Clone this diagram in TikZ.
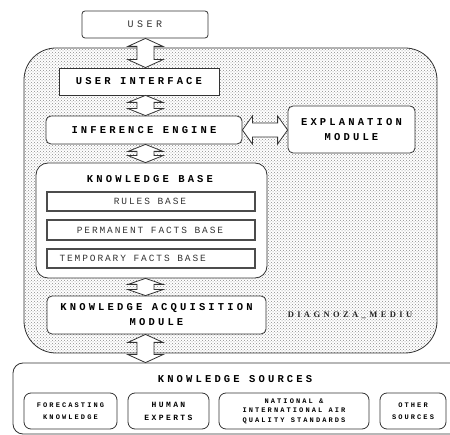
\documentclass[tikz,border=0pt]{standalone}
\usepackage{fontspec}
\newfontfamily\courfont{Liberation Mono}
\newfontfamily\serfont{Liberation Serif}
\usetikzlibrary{patterns,calc}
\tikzset{
  box/.style={draw=black!80, line width=0.8pt, fill=white, inner sep=0pt, align=center},
  rbox/.style={box, rounded corners=5pt},
  inbox/.style={box, line width=1.1pt, draw=black!70},
  titlefont/.style={font=\courfont\bfseries\fontsize{10.5}{15}\selectfont\addfontfeature{LetterSpace=30}},
  plainfont/.style={font=\courfont\fontsize{9.5}{12}\selectfont\addfontfeature{LetterSpace=20}, text=black!80},
  userfont/.style={font=\courfont\fontsize{10}{12}\selectfont\addfontfeature{LetterSpace=35}, text=black!80},
  smallfont/.style={font=\courfont\bfseries\fontsize{7}{12}\selectfont\addfontfeature{LetterSpace=30}},
  midfont/.style={font=\courfont\bfseries\fontsize{8}{13}\selectfont\addfontfeature{LetterSpace=30}},
  arrowline/.style={draw=black!80, line width=0.8pt, fill=white, line join=miter},
  region/.style={draw=black!80, line width=0.8pt, pattern=crosshatch dots, pattern color=black!45, rounded corners=32pt, inner sep=0pt},
}
\newcommand\vdarrow[3]{%
  \draw[arrowline] (#1) -- ++(17.5,#3) -- ++(-9,0) -- ($(#2)+(8.5,-#3)$) -- ++(9,0)
    -- (#2) -- ++(-17.5,-#3) -- ++(9,0) -- ($(#1)+(-8.5,#3)$) -- ++(-9,0) -- cycle;}
\newcommand\hdarrow[2]{%
  \draw[arrowline] (#1) -- ++(10,-14) -- ++(0,7) -- ($(#2)+(-10,-7)$) -- ++(0,-7)
    -- (#2) -- ++(-10,14) -- ++(0,-7) -- ($(#1)+(10,7)$) -- ++(0,7) -- cycle;}
\begin{document}
\begin{tikzpicture}[x=1pt,y=-1pt]
\useasboundingbox (0,0) rectangle (450,435);
\clip (0,0) rectangle (450,435);
\fill[white] (0,0) rectangle (450,435);

% main region
\node[region, minimum width=413pt, minimum height=305pt] (outer) at (230.5,200.5) {};
\node[font=\serfont\bfseries\fontsize{8.5}{10}\selectfont\addfontfeature{LetterSpace=40}, text=black!85] (diag) at (350,315) {DIAGNOZA\_MEDIU};

% sources region
\node[box, rounded corners=10pt, minimum width=457pt, minimum height=71pt] (src) at (241.5,398.5) {};
\node[titlefont] (srct) at (235,379) {KNOWLEDGE SOURCES};

\coordinate (ax) at (145.5,0);

% arrows (behind boxes)
\node[rbox, rounded corners=3pt, minimum width=126pt, minimum height=27pt, userfont] (user) at (145,24.5) {USER};
\node[box, minimum width=160pt, minimum height=27pt, titlefont] (ui) at (139,81.5) {USER INTERFACE};
\node[rbox, minimum width=196pt, minimum height=28pt, titlefont] (ie) at (144,130) {INFERENCE ENGINE};
\node[rbox, minimum width=127pt, minimum height=47pt, titlefont] (em) at (351.5,129.5) {EXPLANATION\\MODULE};
\node[box, rounded corners=12pt, minimum width=231pt, minimum height=115pt] (kb) at (151.5,220.5) {};
\node[titlefont] (kbt) at (150,179) {KNOWLEDGE BASE};
\node[inbox, minimum width=208pt, minimum height=19pt] (rules) at (151,201.5) {};
\node[plainfont] (rulest) at (150,201.5) {RULES BASE};
\node[inbox, minimum width=208pt, minimum height=20pt] (perm) at (151,230) {};
\node[plainfont] (permt) at (150,230) {PERMANENT FACTS BASE};
\node[inbox, minimum width=208pt, minimum height=19pt] (temp) at (151,258.5) {};
\node[plainfont, anchor=west] (tempt) at (56,258.5) {TEMPORARY FACTS BASE};
\node[rbox, minimum width=219pt, minimum height=38pt, titlefont] (kam) at (156.5,315) {KNOWLEDGE ACQUISITION\\MODULE};

\node[rbox, rounded corners=7pt, minimum width=93pt, minimum height=36pt, smallfont] (fk) at (70.5,411) {FORECASTING\\KNOWLEDGE};
\node[rbox, rounded corners=7pt, minimum width=81pt, minimum height=36pt, midfont] (he) at (168.5,411) {HUMAN\\EXPERTS};
\node[rbox, rounded corners=7pt, minimum width=150pt, minimum height=36pt, smallfont, font=\courfont\bfseries\fontsize{7}{9.5}\selectfont\addfontfeature{LetterSpace=30}] (nat) at (294,411) {NATIONAL \&\\INTERNATIONAL AIR\\QUALITY STANDARDS};
\node[rbox, rounded corners=7pt, minimum width=66pt, minimum height=36pt, smallfont] (oth) at (413,411) {OTHER\\SOURCES};

\vdarrow{ax |- user.south}{ax |- ui.north}{8}
\vdarrow{ax |- ui.south}{ax |- ie.north}{7}
\vdarrow{ax |- ie.south}{ax |- kb.north}{7}
\vdarrow{ax |- kb.south}{ax |- kam.north}{6}
\vdarrow{ax |- kam.south}{ax |- src.north}{8}
\hdarrow{ie.east}{em.west |- ie.east}
\end{tikzpicture}
\end{document}
